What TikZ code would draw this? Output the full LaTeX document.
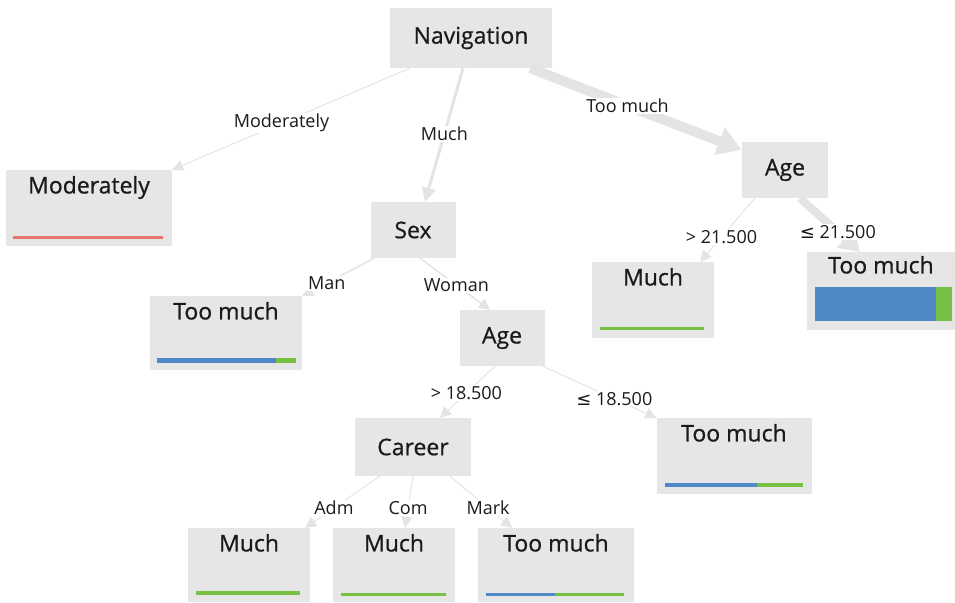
\documentclass[tikz,border=0pt]{standalone}
\usepackage{fontspec}
\setmainfont{Open Sans}
\newfontfamily\titlefont{Open Sans}[FakeBold=0.7]
\newfontfamily\symfont{DejaVu Sans}
\usetikzlibrary{arrows.meta}
\definecolor{boxgray}{HTML}{E6E6E6}
\definecolor{edgegray}{HTML}{E4E4E4}
\definecolor{barblue}{HTML}{5088C8}
\definecolor{bargreen}{HTML}{78C043}
\definecolor{barred}{HTML}{E8766B}
\definecolor{txt}{HTML}{1A1A1A}
\newcommand{\leqsym}{{\symfont ≤}}

\begin{document}
\begin{tikzpicture}[x=1pt,y=-1pt,
		split/.style={fill=boxgray,inner sep=0pt,font=\titlefont\fontsize{23}{27}\selectfont,text=txt},
		leaf/.style={fill=boxgray,inner sep=0pt},
		ttl/.style={anchor=north,inner sep=0pt,yshift=-6pt,font=\titlefont\fontsize{23}{27}\selectfont,text=txt},
		edge/.style={draw=edgegray,line width=1pt,-{Triangle[length=11pt,width=11pt]}},
		elabel/.style={fill=white,inner sep=1pt,font=\fontsize{18}{21}\selectfont,text=txt}]
		\useasboundingbox (0,0) rectangle (955,602);
		
		% split nodes
		\node[split,minimum width=162pt,minimum height=60pt] (nav) at (471,38) {Navigation};
		\node[split,minimum width=85pt,minimum height=56pt] (sex) at (413,230) {Sex};
		\node[split,minimum width=86pt,minimum height=56pt] (ageA) at (785,170) {Age};
		\node[split,minimum width=85pt,minimum height=56pt] (ageB) at (502,338) {Age};
		\node[split,minimum width=116pt,minimum height=58pt] (career) at (413,447) {Career};
		
		% leaves
		\node[leaf,minimum width=166pt,minimum height=76pt] (mod) at (89,208) {};
		\node[leaf,minimum width=152pt,minimum height=74pt] (tmMan) at (226,333) {};
		\node[leaf,minimum width=122pt,minimum height=76pt] (muchA) at (653,300) {};
		\node[leaf,minimum width=148pt,minimum height=78pt] (tmA) at (881,291) {};
		\node[leaf,minimum width=155pt,minimum height=76pt] (tmB) at (734,456) {};
		\node[leaf,minimum width=122pt,minimum height=74pt] (muchAdm) at (249,565) {};
		\node[leaf,minimum width=122pt,minimum height=74pt] (muchCom) at (394,565) {};
		\node[leaf,minimum width=156pt,minimum height=74pt] (tmMark) at (556,565) {};
		
		\node[ttl] (modT) at (mod.north) {Moderately};
		\node[ttl] (tmManT) at (tmMan.north) {Too much};
		\node[ttl] (muchAT) at (muchA.north) {Much};
		\node[ttl,yshift=2pt] (tmAT) at (tmA.north) {Too much};
		\node[ttl] (tmBT) at (tmB.north) {Too much};
		\node[ttl] (muchAdmT) at (muchAdm.north) {Much};
		\node[ttl] (muchComT) at (muchCom.north) {Much};
		\node[ttl] (tmMarkT) at (tmMark.north) {Too much};
		
		% class bars
		\fill[barred] (13,235.5) rectangle (163,238.5);
		\fill[barblue] (157,357.5) rectangle (276,362.5);
		\fill[bargreen] (276,357.5) rectangle (296,362.5);
		\fill[bargreen] (600,326.5) rectangle (704,329.5);
		\fill[barblue] (815,287) rectangle (936,321);
		\fill[bargreen] (936,287) rectangle (952,321);
		\fill[barblue] (665,483) rectangle (757,487);
		\fill[bargreen] (757,483) rectangle (803,487);
		\fill[bargreen] (196,591) rectangle (300,595);
		\fill[bargreen] (341,592.5) rectangle (446,595.5);
		\fill[barblue] (486,592.5) rectangle (555,595.5);
		\fill[bargreen] (555,592.5) rectangle (624,595.5);
		
		% edges
		\draw[edge] ([xshift=20pt]nav.south west) to node[elabel,pos=.54]{Moderately} (mod.north east);
		\draw[edge,line width=3pt,-{Triangle[length=14pt,width=14pt]}] ([xshift=-8pt]nav.south) to node[elabel,pos=.49]{Much} ([xshift=12pt]sex.north);
		\draw[edge,line width=10pt,-{Triangle[length=24pt,width=28pt]}] ([xshift=-22pt]nav.south east) to node[elabel,pos=.46]{Too much} ([yshift=-8pt]ageA.north west);
		\draw[edge] ([xshift=13pt]ageA.south west) to node[elabel,pos=.61]{> 21.500} ([xshift=-14pt]muchA.north east);
		\draw[edge,line width=8pt,-{Triangle[length=20pt,width=24pt]}] ([xshift=15pt]ageA.south) to node[elabel,pos=.63]{\leqsym\ 21.500} ([xshift=-21pt]tmA.north);
		\draw[edge,line width=1.5pt] ([xshift=4pt]sex.south west) to node[elabel,pos=.66]{Man} (tmMan.north east);
		\draw[edge,line width=1.5pt] ([xshift=7pt]sex.south) to node[elabel,pos=.52]{Woman} ([xshift=-12pt]ageB.north);
		\draw[edge] ([xshift=-7pt]ageB.south) to node[elabel,pos=.52]{> 18.500} ([xshift=27pt]career.north);
		\draw[edge] ([xshift=-2pt]ageB.south east) to node[elabel,pos=.63]{\leqsym\ 18.500} (tmB.north west);
		\draw[edge] ([xshift=25pt]career.south west) to node[elabel,pos=.615]{Adm} ([xshift=-5pt]muchAdm.north east);
		\draw[edge] (career.south) to node[elabel,pos=.615]{Com} ([xshift=11pt]muchCom.north);
		\draw[edge] ([xshift=37pt]career.south) to node[elabel,pos=.615]{Mark} ([xshift=-44pt]tmMark.north);
	\end{tikzpicture}
\end{document}
